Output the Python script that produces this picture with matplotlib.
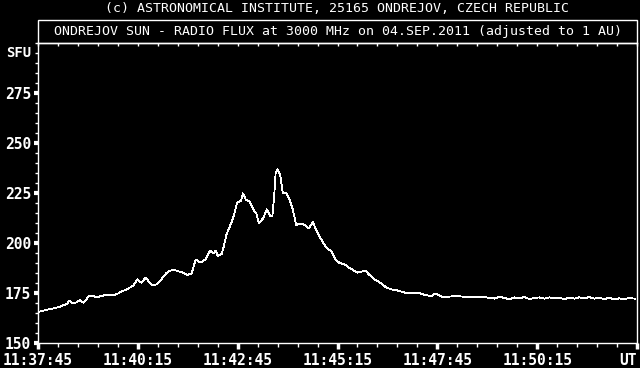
"""Ondrejov 3000 MHz solar radio flux, 04 Sep 2011 (replot of the station quicklook)."""

import matplotlib

matplotlib.use("Agg")
import matplotlib.pyplot as plt
from matplotlib.patches import Rectangle
from matplotlib.ticker import FixedLocator, MultipleLocator

# seconds after 11:37:45 UT
seconds = [
    0, 6, 12, 18, 26, 33, 39, 44, 47, 53, 59, 63, 68, 72, 77, 83, 89, 95, 102, 110,
    117, 122, 126, 132, 138, 144, 149, 155, 162, 168, 173, 179, 183, 188, 193, 198,
    204, 209, 213, 219, 224, 228, 231, 237, 244, 248, 252, 258, 264, 267, 270, 276,
    279, 283, 288, 293, 296, 299, 305, 308, 312, 318, 324, 328, 332, 338, 344, 349,
    352, 355, 357, 360, 364, 366, 368, 373, 378, 383, 388, 393, 401, 407, 413, 418,
    426, 433, 441, 447, 453, 461, 467, 473, 480, 486, 492, 498, 506, 516, 523, 531,
    541, 551, 561, 571, 581, 591, 597, 606, 618, 628, 638, 653, 663, 673, 686, 693,
    701, 708, 716, 723, 731, 738, 746, 753, 761, 768, 776, 783, 791, 798, 806, 813,
    821, 828, 836, 843, 851, 858, 866, 873, 881, 888, 897,
]
# flux in SFU
flux = [
    165.5, 166.0, 166.5, 167.0, 167.5, 168.2, 169.0, 169.5, 171.2, 169.8, 170.5, 171.5,
    170.2, 171.5, 173.7, 173.5, 172.8, 173.5, 174.0, 173.8, 174.3, 175.0, 176.0, 176.5,
    177.7, 179.0, 181.8, 180.2, 182.7, 180.0, 178.7, 179.5, 180.7, 183.0, 185.0, 186.0,
    186.8, 186.0, 185.7, 185.0, 184.0, 184.5, 184.8, 191.8, 190.2, 191.0, 191.8, 196.2,
    194.8, 196.2, 193.5, 194.5, 198.0, 204.0, 208.2, 212.3, 216.0, 220.2, 221.2, 224.8,
    221.8, 220.7, 216.5, 214.8, 209.8, 212.3, 216.8, 213.5, 213.2, 224.0, 234.8, 236.8,
    234.0, 229.0, 224.8, 224.8, 221.5, 216.5, 209.0, 209.8, 209.0, 207.3, 210.5, 206.5,
    201.5, 197.8, 195.7, 191.8, 190.0, 189.3, 187.8, 186.5, 185.2, 185.7, 186.2, 184.0,
    181.8, 179.8, 177.8, 176.8, 176.2, 175.2, 174.8, 175.2, 174.0, 173.5, 174.8, 173.2,
    173.2, 173.5, 173.2, 173.2, 172.8, 172.8, 172.2, 173.2, 172.5, 171.8, 172.8, 172.3,
    173.0, 172.0, 172.5, 172.8, 172.2, 172.8, 172.3, 172.5, 172.0, 172.6, 172.2, 172.8,
    172.3, 173.0, 172.2, 172.5, 172.0, 172.6, 171.8, 172.3, 172.0, 172.4, 172.2,
]

x_major = [0, 150, 300, 450, 600, 750, 900]
x_labels = ["11:37:45", "11:40:15", "11:42:45", "11:45:15", "11:47:45", "11:50:15", "UT"]
y_major = [150, 175, 200, 225, 250, 275]

HEADER = "(c) ASTRONOMICAL INSTITUTE, 25165 ONDREJOV, CZECH REPUBLIC"
TITLE = "ONDREJOV SUN - RADIO FLUX at 3000 MHz on 04.SEP.2011 (adjusted to 1 AU)"

W, H = 640, 368
L, R, T, B = 38, 637, 43, 343
BOX_TOP = 20
MONO = "DejaVu Sans Mono"

fig = plt.figure(figsize=(W / 100, H / 100), dpi=100, facecolor="black")
ax = fig.add_axes([L / W, 1 - B / H, (R - L) / W, (B - T) / H], facecolor="black")

ax.plot(seconds, flux, color="white", lw=0.6, antialiased=False)
ax.set_xlim(0, 900)
ax.set_ylim(150, 300)

for side in ("left", "right", "top", "bottom"):
    ax.spines[side].set_color("white")
    ax.spines[side].set_linewidth(1.0)

ax.xaxis.set_major_locator(FixedLocator(x_major))
ax.set_xticklabels(x_labels)
ax.xaxis.set_minor_locator(MultipleLocator(30))
ax.yaxis.set_major_locator(FixedLocator(y_major))
ax.yaxis.set_minor_locator(MultipleLocator(5))

ax.tick_params(axis="x", which="major", direction="out", length=4, width=2.5,
               color="white", labelcolor="white", pad=3, labelsize=10.5)
ax.tick_params(axis="x", which="minor", direction="out", length=3, width=1, color="white")
ax.tick_params(axis="y", which="major", direction="out", length=3, width=3,
               color="white", labelcolor="white", pad=2, labelsize=10.5)
ax.tick_params(axis="y", which="minor", direction="out", length=2, width=1, color="white")
for lab in ax.get_xticklabels() + ax.get_yticklabels():
    lab.set_family(MONO)
    lab.set_fontweight("bold")
xl = ax.get_xticklabels()
xl[-1].set_horizontalalignment("right")

top = ax.secondary_xaxis("top")
top.xaxis.set_major_locator(MultipleLocator(30))
top.tick_params(direction="in", length=2, width=1, color="white", labeltop=False)
top.spines["top"].set_visible(False)

ax.text(-0.012, 295, "SFU", transform=ax.get_yaxis_transform(), ha="right", va="center",
        color="white", family=MONO, fontweight="bold", fontsize=10)

fig.add_artist(Rectangle((L / W, 1 - T / H), (R - L) / W, (T - BOX_TOP) / H,
                         transform=fig.transFigure, fill=False, edgecolor="white", lw=1.0))
fig.text((L + R) / 2 / W, 1 - 31.5 / H, TITLE, ha="center", va="center",
         color="white", family=MONO, fontsize=9.5)
fig.text(337 / W, 1 - 9 / H, HEADER, ha="center", va="center",
         color="white", family=MONO, fontsize=9.5)

fig.savefig("out.png", dpi=100, facecolor="black")
